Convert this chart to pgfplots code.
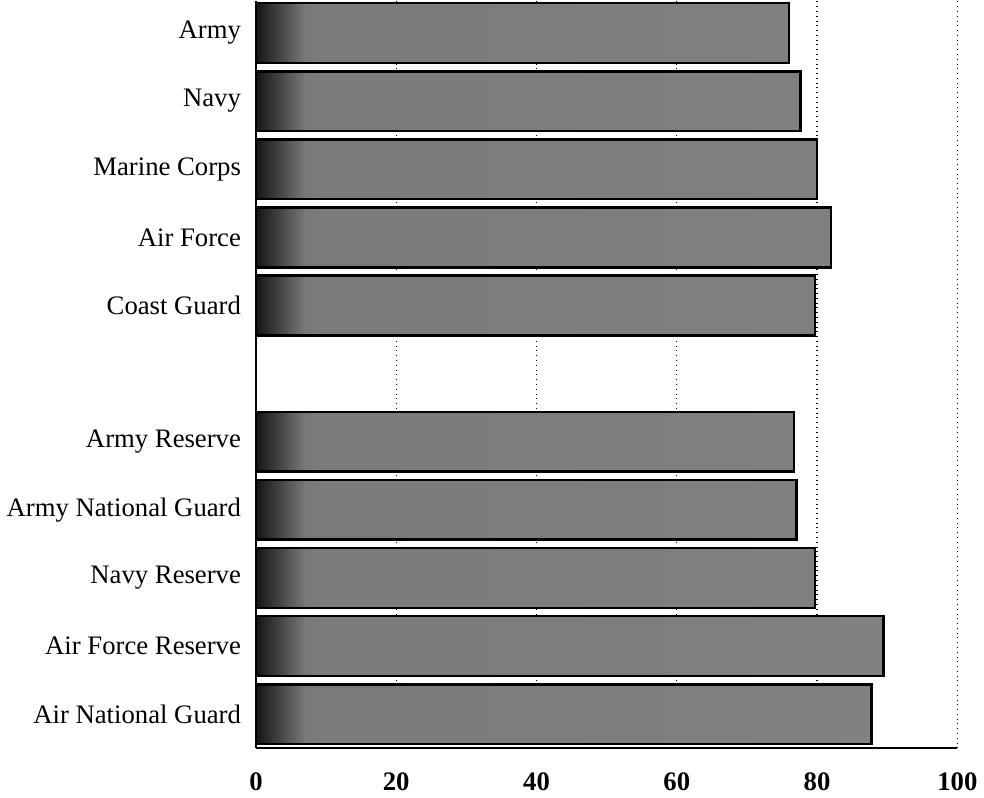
\documentclass[border=0pt]{standalone}
\usepackage{fontspec}
\setmainfont{Liberation Serif}
\usepackage{pgfplots}
\pgfplotsset{compat=1.18}

% dark edge on the left of each bar, then flat grey
\pgfdeclarehorizontalshading{barshade}{100bp}{%
  color(0bp)=(black!92); color(25bp)=(black!92);
  color(29bp)=(black!52); color(100bp)=(black!48)}

\begin{document}
\begin{tikzpicture}
\begin{axis}[
  scale only axis,
  width=352pt, height=375pt,
  xmin=0, xmax=100,
  ymin=-0.5, ymax=10.47,
  xtick={0,20,40,60,80,100},
  ytick={0,1,2,3,4,6,7,8,9,10},
  yticklabels={Air National Guard, Air Force Reserve, Navy Reserve,
    Army National Guard, Army Reserve, Coast Guard, Air Force,
    Marine Corps, Navy, Army},
  axis x line*=bottom,
  axis y line*=left,
  axis line style={black, line width=1pt},
  major tick length=0pt,
  xmajorgrids,
  major grid style={black, dotted, line width=0.6pt},
  /pgf/number format/assume math mode=true,
  tick label style={font=\fontsize{13.4}{16}\selectfont},
  xticklabel style={font=\fontsize{13.4}{16}\selectfont\bfseries, yshift=-9pt},
  yticklabel style={xshift=-4pt},
  clip=false,
]
  \addplot[xbar, bar width=30pt, draw=black, line width=1.3pt,
    shade, shading=barshade] coordinates {
    (76.0,10) (77.6,9) (80.0,8) (82.0,7) (79.7,6)
    (76.7,4) (77.1,3) (79.7,2) (89.5,1) (87.8,0)
  };
\end{axis}
\end{tikzpicture}
\end{document}
